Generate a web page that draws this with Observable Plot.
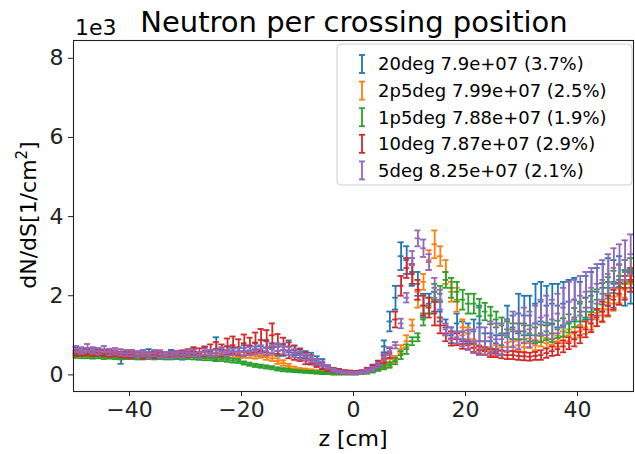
<!DOCTYPE html>
<html><head><meta charset="utf-8">
<script src="https://cdn.jsdelivr.net/npm/d3@7"></script>
<script src="https://cdn.jsdelivr.net/npm/@observablehq/plot@0.6"></script>
<style>body{margin:0;background:#fff} svg{font-family:"DejaVu Sans",sans-serif}</style>
</head><body><div id="chart"></div>
<script>
// bin centers (1 cm bins from -50 to 50)
const zCenters = d3.range(-49.5, 50, 1);
const seriesKeys = ["20deg", "2p5deg", "1p5deg", "10deg", "5deg"];
const legendLabels = ["20deg 7.9e+07 (3.7%)", "2p5deg 7.99e+07 (2.5%)", "1p5deg 7.88e+07 (1.9%)", "10deg 7.87e+07 (2.9%)", "5deg 8.25e+07 (2.1%)"];
const seriesColors = ["#1f77b4", "#ff7f0e", "#2ca02c", "#d62728", "#9467bd"];
const xTicks = [-40, -20, 0, 20, 40];
const yTicks = [0, 2, 4, 6, 8];

// values in units of 1e3
const v20deg = [0.62,0.6,0.58,0.6,0.57,0.55,0.56,0.52,0.40,0.52, 0.55,0.5,0.53,0.55,0.52,0.5,0.48,0.55,0.5,0.47,
  0.52,0.55,0.5,0.6,0.5,0.65,0.55,0.62,0.6,0.58, 0.6,0.62,0.65,0.6,0.68,0.65,0.6,0.63,0.72,0.62,
  0.55,0.48,0.42,0.35,0.28,0.16,0.12,0.1,0.07,0.06, 0.05,0.06,0.12,0.18,0.25,0.72,1.35,1.95,3.0,2.9,
  2.6,2.3,1.75,1.8,1.85,1.6,1.2,1.0,1.3,1.1, 1.05,1.1,1.3,0.85,0.85,0.8,0.75,1.4,1.2,1.55,
  1.5,1.5,1.8,1.85,1.75,1.8,1.75,1.8,1.85,1.9, 1.8,1.95,2.0,2.1,2.2,2.35,2.3,2.4,2.2,2.2];
const e20deg = [0.08,0.08,0.08,0.08,0.08,0.08,0.08,0.08,0.12,0.08, 0.08,0.08,0.08,0.1,0.08,0.08,0.08,0.08,0.08,0.08,
  0.08,0.1,0.08,0.1,0.08,0.3,0.1,0.1,0.1,0.1, 0.15,0.12,0.15,0.12,0.2,0.15,0.12,0.15,0.15,0.12,
  0.12,0.12,0.14,0.12,0.12,0.08,0.06,0.05,0.04,0.04, 0.04,0.04,0.06,0.08,0.1,0.15,0.25,0.3,0.35,0.35,
  0.35,0.3,0.3,0.25,0.25,0.25,0.2,0.2,0.25,0.25, 0.25,0.3,0.45,0.2,0.2,0.2,0.25,0.35,0.3,0.5,
  0.5,0.5,0.5,0.5,0.5,0.5,0.55,0.55,0.55,0.55, 0.55,0.55,0.6,0.6,0.6,0.6,0.6,0.6,0.45,0.4];

const v2p5deg = [0.55,0.55,0.52,0.5,0.52,0.5,0.5,0.48,0.5,0.5, 0.52,0.5,0.5,0.48,0.5,0.52,0.5,0.5,0.52,0.5,
  0.5,0.52,0.5,0.5,0.48,0.5,0.5,0.52,0.5,0.5, 0.5,0.5,0.48,0.5,0.45,0.42,0.35,0.3,0.22,0.16,
  0.13,0.12,0.1,0.08,0.07,0.06,0.05,0.05,0.05,0.05, 0.05,0.06,0.08,0.12,0.2,0.25,0.3,0.4,0.65,0.85,
  1.25,1.9,2.35,2.9,3.3,3.0,2.6,2.1,1.9,1.2, 1.05,0.8,0.65,0.6,0.6,0.65,0.6,0.7,0.72,0.75,
  0.7,0.8,0.75,0.85,0.8,0.9,0.85,0.95,1.0,1.05, 1.1,1.2,1.3,1.4,1.5,1.65,1.8,2.0,2.15,2.3];
const e2p5deg = [0.06,0.06,0.06,0.06,0.06,0.06,0.06,0.06,0.06,0.06, 0.06,0.06,0.06,0.06,0.06,0.06,0.06,0.06,0.06,0.06,
  0.06,0.06,0.06,0.06,0.06,0.06,0.06,0.06,0.06,0.06, 0.07,0.07,0.07,0.07,0.07,0.07,0.07,0.07,0.06,0.05,
  0.04,0.04,0.04,0.04,0.04,0.04,0.04,0.04,0.04,0.04, 0.03,0.03,0.04,0.05,0.06,0.08,0.1,0.08,0.1,0.15,
  0.15,0.2,0.2,0.25,0.35,0.25,0.3,0.25,0.3,0.2, 0.15,0.1,0.1,0.08,0.1,0.1,0.1,0.12,0.12,0.12,
  0.12,0.12,0.13,0.13,0.13,0.14,0.14,0.15,0.15,0.15, 0.15,0.16,0.16,0.17,0.17,0.18,0.18,0.19,0.2,0.2];

const v1p5deg = [0.48,0.47,0.47,0.46,0.47,0.45,0.46,0.45,0.44,0.45, 0.45,0.44,0.44,0.45,0.44,0.45,0.44,0.44,0.45,0.44,
  0.45,0.44,0.43,0.42,0.42,0.4,0.4,0.38,0.36,0.35, 0.3,0.27,0.24,0.22,0.2,0.18,0.15,0.13,0.12,0.1,
  0.09,0.08,0.07,0.06,0.05,0.05,0.04,0.04,0.04,0.04, 0.04,0.05,0.07,0.1,0.15,0.2,0.25,0.35,0.5,0.65,
  0.85,0.95,1.4,1.75,2.1,2.05,2.4,2.2,2.1,1.9, 1.8,1.8,1.7,1.6,1.5,1.4,1.25,1.15,1.1,1.1,
  1.1,1.05,1.0,1.05,1.1,1.05,1.15,1.2,1.3,1.45, 1.6,1.7,1.85,1.9,2.05,2.2,2.35,2.5,2.6,2.65];
const e1p5deg = [0.05,0.05,0.05,0.05,0.05,0.05,0.05,0.05,0.05,0.05, 0.05,0.05,0.05,0.05,0.05,0.05,0.05,0.05,0.05,0.05,
  0.05,0.05,0.05,0.05,0.05,0.05,0.05,0.05,0.05,0.05, 0.04,0.04,0.04,0.04,0.04,0.04,0.04,0.04,0.04,0.03,
  0.03,0.03,0.03,0.03,0.03,0.03,0.03,0.03,0.03,0.03, 0.03,0.03,0.04,0.04,0.05,0.06,0.07,0.08,0.1,0.12,
  0.1,0.1,0.15,0.2,0.2,0.2,0.2,0.25,0.25,0.25, 0.25,0.25,0.22,0.22,0.22,0.2,0.2,0.2,0.2,0.2,
  0.2,0.2,0.2,0.22,0.22,0.22,0.22,0.23,0.23,0.24, 0.25,0.25,0.26,0.26,0.27,0.27,0.28,0.28,0.3,0.3];

const v10deg = [0.55,0.55,0.57,0.55,0.56,0.55,0.53,0.55,0.52,0.5, 0.5,0.52,0.48,0.5,0.5,0.55,0.5,0.52,0.52,0.55,
  0.55,0.6,0.55,0.6,0.62,0.65,0.62,0.72,0.75,0.7, 0.8,0.74,0.82,0.88,0.85,1.0,0.78,0.72,0.62,0.56,
  0.5,0.42,0.38,0.3,0.22,0.16,0.12,0.1,0.08,0.07, 0.07,0.08,0.12,0.18,0.28,0.4,0.55,1.4,2.25,2.7,
  2.55,2.15,1.75,1.7,1.55,1.25,1.05,0.92,0.9,0.78, 0.75,0.68,0.62,0.6,0.55,0.55,0.52,0.5,0.5,0.48,
  0.47,0.46,0.48,0.5,0.55,0.6,0.65,0.72,0.8,0.9, 1.0,1.15,1.3,1.45,1.6,1.75,1.9,2.05,2.2,2.4];
const e10deg = [0.07,0.07,0.07,0.07,0.07,0.07,0.07,0.07,0.07,0.07, 0.07,0.07,0.07,0.07,0.07,0.07,0.07,0.07,0.07,0.07,
  0.1,0.1,0.12,0.12,0.15,0.18,0.15,0.2,0.22,0.2, 0.22,0.2,0.25,0.28,0.28,0.3,0.25,0.22,0.2,0.18,
  0.15,0.15,0.12,0.1,0.08,0.06,0.05,0.04,0.04,0.04, 0.03,0.04,0.05,0.06,0.08,0.1,0.12,0.2,0.25,0.25,
  0.25,0.25,0.25,0.25,0.3,0.2,0.2,0.18,0.15,0.12, 0.1,0.1,0.1,0.1,0.1,0.1,0.1,0.1,0.1,0.1,
  0.1,0.1,0.1,0.12,0.12,0.12,0.15,0.15,0.15,0.18, 0.2,0.2,0.22,0.22,0.25,0.25,0.25,0.28,0.3,0.3];

const v5deg = [0.65,0.62,0.68,0.62,0.6,0.65,0.58,0.6,0.57,0.55, 0.55,0.52,0.55,0.5,0.55,0.52,0.5,0.5,0.53,0.5,
  0.55,0.55,0.5,0.58,0.55,0.55,0.6,0.55,0.58,0.6, 0.58,0.6,0.62,0.65,0.6,0.65,0.7,0.62,0.6,0.55,
  0.5,0.45,0.4,0.33,0.28,0.2,0.12,0.08,0.06,0.05, 0.05,0.06,0.1,0.15,0.25,0.45,0.6,0.75,1.3,1.95,
  2.95,3.45,3.2,2.85,2.2,1.9,1.15,1.05,0.95,0.9, 0.88,0.85,0.85,0.85,0.95,0.9,0.9,1.0,1.15,1.1,
  1.25,1.15,1.3,1.45,1.5,1.4,1.55,1.7,1.85,1.9, 2.0,2.1,2.2,2.3,2.4,2.55,2.7,2.8,2.9,3.05];
const e5deg = [0.08,0.08,0.1,0.08,0.08,0.08,0.08,0.08,0.08,0.08, 0.08,0.08,0.08,0.08,0.08,0.08,0.08,0.08,0.08,0.08,
  0.08,0.08,0.08,0.08,0.08,0.08,0.1,0.08,0.08,0.08, 0.1,0.1,0.1,0.1,0.1,0.1,0.1,0.1,0.1,0.1,
  0.1,0.08,0.08,0.07,0.06,0.05,0.04,0.03,0.03,0.03, 0.03,0.03,0.04,0.05,0.06,0.08,0.1,0.08,0.12,0.12,
  0.18,0.2,0.22,0.2,0.25,0.25,0.15,0.15,0.15,0.18, 0.25,0.3,0.35,0.35,0.4,0.4,0.4,0.4,0.45,0.45,
  0.45,0.45,0.45,0.45,0.5,0.5,0.5,0.5,0.5,0.5, 0.5,0.5,0.5,0.5,0.5,0.5,0.5,0.5,0.5,0.5];

const allValues = [v20deg, v2p5deg, v1p5deg, v10deg, v5deg];
const allErrors = [e20deg, e2p5deg, e1p5deg, e10deg, e5deg];

const rowsBySeries = seriesKeys.map((s, k) =>
  allValues[k].map((v, i) => ({series: s, z: zCenters[i], v, e: allErrors[k][i]})));

const sw = 1.8;
const marks = [];
rowsBySeries.forEach(rows => {
  marks.push(
    Plot.ruleX(rows, {x: "z", y1: d => d.v - d.e, y2: d => d.v + d.e, stroke: "series", strokeWidth: sw}),
    Plot.ruleY(rows, {y: "v", x1: d => d.z - 0.5, x2: d => d.z + 0.5, stroke: "series", strokeWidth: sw}),
    Plot.ruleY(rows, {y: d => d.v + d.e, x1: d => d.z - 0.55, x2: d => d.z + 0.55, stroke: "series", strokeWidth: sw}),
    Plot.ruleY(rows, {y: d => d.v - d.e, x1: d => d.z - 0.55, x2: d => d.z + 0.55, stroke: "series", strokeWidth: sw})
  );
});
marks.push(Plot.frame({stroke: "#222", strokeWidth: 1.1}));

const fmt = d => (d < 0 ? "\u2212" : "") + Math.abs(d);

const chart = Plot.plot({
  width: 635, height: 454,
  marginLeft: 73, marginRight: 2, marginTop: 40, marginBottom: 63,
  style: {fontFamily: "DejaVu Sans", fontSize: "22px", background: "white", color: "#222"},
  x: {domain: [-50, 50], ticks: xTicks, tickSize: 5, tickPadding: 5, tickFormat: fmt, label: null},
  y: {domain: [-0.42, 8.45], ticks: yTicks, tickSize: 5, tickPadding: 5, tickFormat: fmt, label: null},
  color: {domain: seriesKeys, range: seriesColors},
  marks
});
document.getElementById("chart").appendChild(chart);

const svg = d3.select(chart);
svg.append("text").attr("x", 354).attr("y", 32).attr("text-anchor", "middle")
  .attr("font-size", 29).attr("fill", "#000").text("Neutron per crossing position");
svg.append("text").attr("x", 75).attr("y", 35).attr("text-anchor", "start").attr("font-size", 22).attr("fill", "#000").text("1e3");
svg.append("text").attr("x", 353).attr("y", 446).attr("text-anchor", "middle")
  .attr("font-size", 22).attr("fill", "#000").text("z [cm]");
const yl = svg.append("text").attr("transform", "translate(36,215) rotate(-90)")
  .attr("text-anchor", "middle").attr("font-size", 22).attr("fill", "#000");
yl.append("tspan").text("dN/dS[1/cm");
yl.append("tspan").attr("font-size", 15).attr("dy", -9).text("2");
yl.append("tspan").attr("dy", 9).text("]");

// legend
const lg = svg.append("g");
lg.append("rect").attr("x", 337).attr("y", 44).attr("width", 295).attr("height", 141)
  .attr("rx", 4).attr("fill", "white").attr("fill-opacity", 0.85).attr("stroke", "#ccc");
legendLabels.forEach((lab, k) => {
  const cy = 64 + 26.6 * k;
  const c = seriesColors[k];
  lg.append("line").attr("x1", 362).attr("x2", 362).attr("y1", cy - 9).attr("y2", cy + 9).attr("stroke", c).attr("stroke-width", sw);
  lg.append("line").attr("x1", 359).attr("x2", 365).attr("y1", cy - 9).attr("y2", cy - 9).attr("stroke", c).attr("stroke-width", sw);
  lg.append("line").attr("x1", 359).attr("x2", 365).attr("y1", cy + 9).attr("y2", cy + 9).attr("stroke", c).attr("stroke-width", sw);
  lg.append("text").attr("x", 378).attr("y", cy).attr("dy", "0.35em").attr("text-anchor", "start")
    .attr("font-size", 18).attr("fill", "#000").text(lab);
});
</script></body></html>
